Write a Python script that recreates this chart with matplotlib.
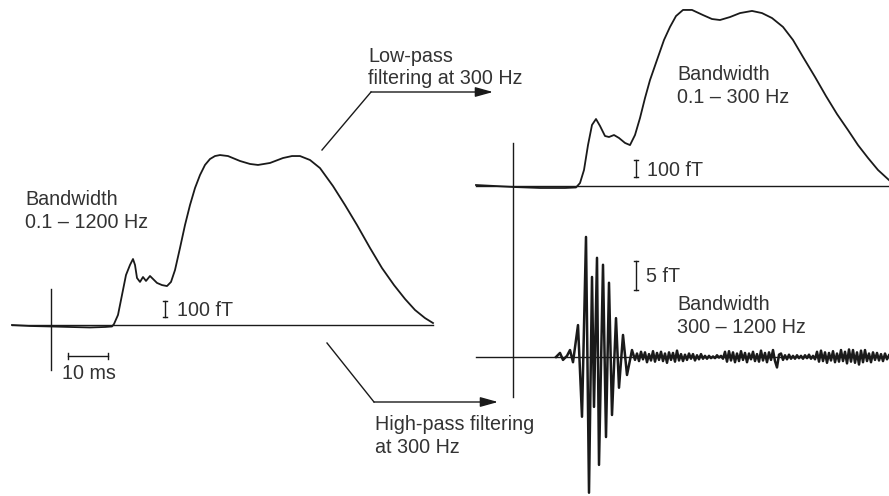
import numpy as np
import matplotlib
matplotlib.use("Agg")
import matplotlib.pyplot as plt
from matplotlib.patches import FancyArrowPatch

plt.rcParams['font.family'] = ['Liberation Sans', 'DejaVu Sans']

# --- data (time in ms, field in fT) ---
# full bandwidth response, 0.1 - 1200 Hz
wide_t = [-9.75, -5.25, 0, 4.75, 9.75, 13.5, 15.25, 15.75, 16.75, 17.75, 18.75, 19.75,
          20.5, 21, 21.5, 22.25, 23, 23.75, 24.75, 25.5, 26.5, 27.75, 29, 30, 31,
          32.25, 33.5, 34.75, 36, 37.25, 38.5, 39.75, 41, 42.25, 44.25, 47.25, 49.75,
          51.75, 54.75, 58, 60.25, 62.25, 64.75, 67.25, 70.5, 73.5, 76.5, 79.75,
          82.75, 85.75, 88.5, 91, 93.5, 95.5]
wide_fT = [0, -6, -9, -12, -15, -12, -9, 6, 61, 182, 303, 364,
           400, 364, 285, 261, 291, 267, 297, 279, 255, 242, 236, 261, 333,
           467, 606, 727, 830, 909, 970, 1006, 1024, 1030, 1024, 994, 976,
           970, 982, 1012, 1024, 1024, 1000, 951, 842, 727, 606, 467,
           345, 242, 158, 91, 42, 12]

# low-pass filtered, 0.1 - 300 Hz
low_t = [-9.25, -4.5, 0, 6.75, 13, 15.75, 16.75, 17.75, 18.75, 19.75, 20.75, 21.75,
         23, 24, 25.25, 26.5, 28, 29.25, 30.5, 31.75, 33, 34.25, 36, 37.75, 39.25,
         40.75, 42.5, 44.75, 47.5, 49.75, 51.75, 54.25, 56.75, 59.75, 62.25, 64.75,
         67.5, 70, 72.5, 75.5, 78.25, 81, 83.75, 86.25, 88.75, 91.25, 94]
low_fT = [6, 0, -6, -12, -12, -9, 18, 97, 248, 370, 406, 364,
          303, 297, 309, 291, 261, 248, 309, 412, 533, 642, 764, 885, 964,
          1030, 1067, 1067, 1036, 1012, 1006, 1024, 1048, 1061, 1048, 1018,
          964, 885, 782, 661, 545, 436, 339, 248, 170, 97, 36]

# high-pass filtered burst, 300 - 1200 Hz
burst_t = [10.75, 11.75, 12.5, 13.5, 14.25, 15, 16.25, 17.25, 18.25, 19, 19.75, 20.25,
           21, 21.5, 22.5, 23.25, 24, 24.75, 25.75, 26.5, 27.5, 28.5, 29.75, 30.5]
burst_fT = [0, 0.7, -0.5, 0.2, 1.2, -0.9, 5.5, -10.3, 20.7, -23.4, 13.8, -8.6,
            17.1, -18.6, 15.9, -13.8, 12.8, -10.0, 6.7, -5.3, 3.8, -3.1, 1.2, -0.5]

noise_start = 31.0
noise_step = 0.5
noise_fT = [0.6, -0.7, 0.9, -0.4, 0.8, -0.9, 0.5, -0.6, 1.0, -0.8, 0.7, -0.5,
            0.9, -0.7, 0.6, -1.0, 0.8, -0.5, 0.7, -0.8, 1.1, -0.6, 0.5, -0.7,
            0.4, -0.5, 0.6, -0.3, 0.5, -0.6, 0.3, -0.4, 0.5, -0.3, 0.2, -0.3,
            0.2, -0.2, 0.1, -0.2, 0.3, -0.1, 0.2, -0.3, 0.9, -0.8, 1.0, -0.6,
            0.8, -0.9, 0.6, -0.7, 1.0, -0.5, 0.7, -0.9, 0.6, -0.4, 0.9, -0.7,
            0.5, -0.8, 1.1, -0.6, 0.7, -0.9, 0.8, -0.5, 1.2, -0.7, -1.8, 0.4,
            0.6, -0.5, 0.3, -0.4, 0.4, -0.3, 0.2, -0.3, 0.3, -0.2, 0.2, -0.3,
            0.3, -0.2, 0.4, -0.3, 0.2, -0.4, 0.9, -0.8, 1.1, -0.7, 0.8, -1.0,
            0.7, -0.6, 1.0, -0.9, 0.6, -0.8, 1.2, -0.7, 0.9, -1.1, 1.3, -0.8,
            1.2, -1.0, 0.8, -1.3, 1.1, -0.9, 1.2, -0.7, 0.6, -0.9, 0.8, -0.5,
            0.7, -0.6, 0.5, -0.7, 0.6, -0.4, 0.3]

W, H = 889, 496
INK = '#1a1a1a'
TXT = '#333333'
FS = 14.2

fig = plt.figure(figsize=(W / 100, H / 100), dpi=100)


def trace_axes(x0, y0, px_ms, px_unit):
    # axes spanning the whole figure, origin (stimulus, baseline) at pixel x0, y0
    ax = fig.add_axes([0, 0, 1, 1])
    ax.set_xlim(-x0 / px_ms, (W - x0) / px_ms)
    ax.set_ylim((y0 - H) / px_unit, y0 / px_unit)
    ax.axis('off')
    return ax


def vbar(ax, t, lo, hi, cap):
    ax.plot([t, t], [lo, hi], color=INK, lw=1)
    ax.plot([t - cap, t + cap], [lo, lo], color=INK, lw=1)
    ax.plot([t - cap, t + cap], [hi, hi], color=INK, lw=1)


# left: full bandwidth
ax1 = trace_axes(51, 325, 4.0, 0.165)
ax1.plot([-9.75, 95.5], [0, 0], color=INK, lw=1)
ax1.plot([0, 0], [218, -273], color=INK, lw=1)
ax1.plot(wide_t, wide_fT, color=INK, lw=1.3)
vbar(ax1, 28.5, 47, 147, 0.6)
ax1.plot([4.25, 14.25], [-188, -188], color=INK, lw=1)
ax1.plot([4.25, 4.25], [-170, -206], color=INK, lw=1)
ax1.plot([14.25, 14.25], [-170, -206], color=INK, lw=1)

# top right: low-pass
ax2 = trace_axes(513, 186, 4.0, 0.165)
ax2.plot([-9.25, 94], [0, 0], color=INK, lw=1)
ax2.plot([0, 0], [261, -1279], color=INK, lw=1)
ax2.plot(low_t, low_fT, color=INK, lw=1.3)
vbar(ax2, 30.75, 55, 155, 0.6)

# bottom right: high-pass
ax3 = trace_axes(513, 357, 4.0, 5.8)
ax3.plot([-9.25, 94], [0, 0], color=INK, lw=1)
noise_t = noise_start + noise_step * np.arange(len(noise_fT))
ax3.plot(list(burst_t) + list(noise_t), list(burst_fT) + list(noise_fT), color=INK, lw=1.8)
vbar(ax3, 30.75, 11.55, 16.55, 0.6)

# annotation layer in pixel coordinates
ax0 = fig.add_axes([0, 0, 1, 1])
ax0.set_xlim(0, W)
ax0.set_ylim(H, 0)
ax0.axis('off')

for pts in ([(322, 150), (371, 92), (493, 92)], [(327, 343), (374, 402), (498, 402)]):
    ax0.plot([pts[0][0], pts[1][0]], [pts[0][1], pts[1][1]], color=INK, lw=1)
    ax0.add_patch(FancyArrowPatch(pts[1], pts[2], arrowstyle='-|>,head_length=0.9,head_width=0.25',
                                  mutation_scale=12, color=INK, lw=1, shrinkA=0, shrinkB=0))

labels = [
    (25, 205, 'Bandwidth'), (25, 227.5, '0.1 \u2013 1200 Hz'),
    (177, 316.5, '100 fT'), (62, 379, '10 ms'),
    (368, 61.5, 'Low-pass'), (368, 84, 'filtering at 300 Hz'),
    (677, 80, 'Bandwidth'), (677, 103, '0.1 \u2013 300 Hz'),
    (647, 176, '100 fT'), (646, 282.5, '5 fT'),
    (677, 310, 'Bandwidth'), (677, 333, '300 \u2013 1200 Hz'),
    (375, 430, 'High-pass filtering'), (375, 453, 'at 300 Hz'),
]
for x, y, s in labels:
    ax0.text(x, y, s, fontsize=FS, color=TXT, ha='left', va='baseline')

fig.savefig('out.png', dpi=100)
